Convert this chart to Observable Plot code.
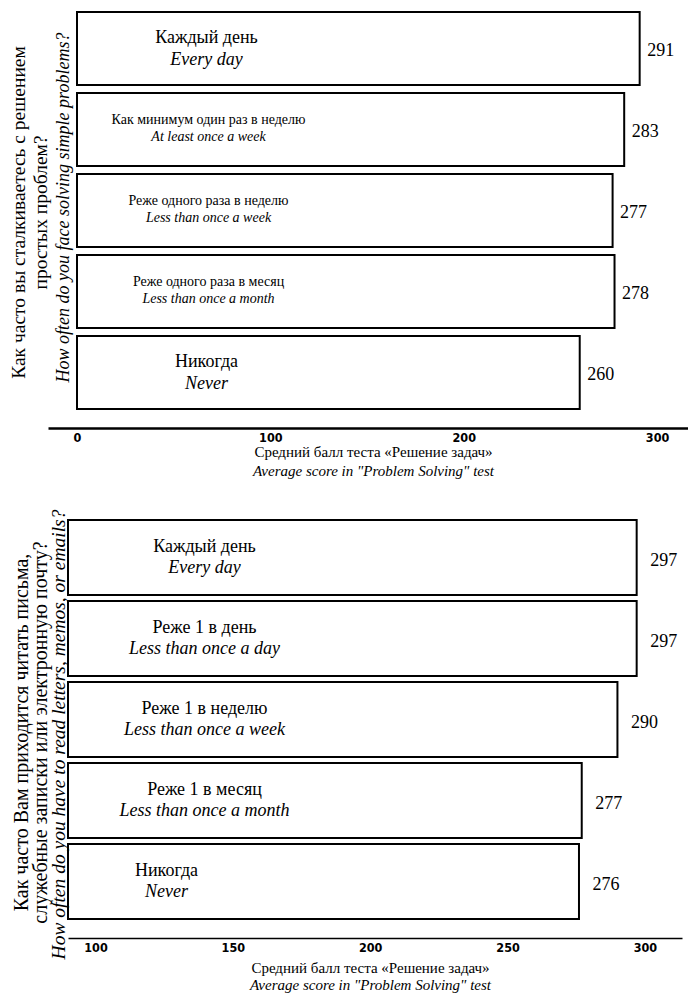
<!DOCTYPE html>
<html>
<head>
<meta charset="utf-8">
<script src="https://cdn.jsdelivr.net/npm/d3@7"></script>
<script src="https://cdn.jsdelivr.net/npm/@observablehq/plot@0.6"></script>
<style>
  html, body { margin: 0; padding: 0; background: #fff; }
  #chart { width: 688px; }
  #chart svg { display: block; }
</style>
</head>
<body>
<div id="chart"></div>
<script>
// ---------- data: panel 1 ----------
const labelsRu1 = ["Каждый день", "Как минимум один раз в неделю", "Реже одного раза в неделю", "Реже одного раза в месяц", "Никогда"];
const labelsEn1 = ["Every day", "At least once a week", "Less than once a week", "Less than once a month", "Never"];
const scores1 = [291, 283, 277, 278, 260];
const ticks1 = [0, 100, 200, 300];
const yTitle1 = ["Как часто вы сталкиваетесь с решением", "простых проблем?", "How often do you face solving simple problems?"];

// ---------- data: panel 2 ----------
const labelsRu2 = ["Каждый день", "Реже 1 в день", "Реже 1 в неделю", "Реже 1 в месяц", "Никогда"];
const labelsEn2 = ["Every day", "Less than once a day", "Less than once a week", "Less than once a month", "Never"];
const scores2 = [297, 297, 290, 277, 276];
const ticks2 = [100, 150, 200, 250, 300];
const yTitle2 = ["Как часто Вам приходится читать письма,", "служебные записки или электронную почту?", "How often do you have to read letters, memos, or emails?"];

// ---------- shared ----------
const xTitle = ["Средний балл теста «Решение задач»", "Average score in \"Problem Solving\" test"];

const rows1 = labelsRu1.map((ru, i) => ({ru, en: labelsEn1[i], score: scores1[i], i}));
const rows2 = labelsRu2.map((ru, i) => ({ru, en: labelsEn2[i], score: scores2[i], i}));

const SERIF = "Liberation Serif";
const TICKFONT = "DejaVu Sans Condensed";

function rowLabels(data, size, dx, dyRu, dyEn) {
  return [
    Plot.text(data, {y: "ru", text: "ru", frameAnchor: "left", dx, dy: dyRu, textAnchor: "middle", lineAnchor: "bottom", fontSize: size, fontFamily: SERIF, fill: "black"}),
    Plot.text(data, {y: "ru", text: "en", frameAnchor: "left", dx, dy: dyEn, textAnchor: "middle", lineAnchor: "bottom", fontSize: size, fontFamily: SERIF, fontStyle: "italic", fill: "black"})
  ];
}

function yTitles(lines, sizes, dxs, dys) {
  return lines.map((t, k) => Plot.text([t], {
    text: d => d, frameAnchor: "left", rotate: -90, dx: dxs[k], dy: dys[k],
    textAnchor: "middle", lineAnchor: "middle", fontSize: sizes[k], fontFamily: SERIF,
    fontStyle: k === 2 ? "italic" : "normal", fill: "black"
  }));
}

function xTitles(dx, dy0, dy1) {
  return xTitle.map((t, k) => Plot.text([t], {
    text: d => d, frameAnchor: "bottom", dx, dy: k === 0 ? dy0 : dy1,
    textAnchor: "middle", lineAnchor: "middle", fontSize: 15, fontFamily: SERIF,
    fontStyle: k === 1 ? "italic" : "normal", fill: "black"
  }));
}

// bottom edge of the frame only (axis line): dash pattern skips top, right and left sides
function bottomLine(w, h, sw) {
  return Plot.frame({stroke: "black", strokeWidth: sw, strokeDasharray: `0 ${w + h} ${w} ${h}`});
}

// ---------- panel 1 ----------
const W1 = 688, H1 = 490, m1 = {l: 48, r: 0, t: 6, b: 62};
const p1 = Plot.plot({
  width: W1, height: H1,
  marginLeft: m1.l, marginRight: m1.r, marginTop: m1.t, marginBottom: m1.b,
  style: {background: "white", color: "black", fontFamily: SERIF},
  x: {domain: [-15, 316], axis: null},
  y: {domain: labelsRu1, axis: null, paddingInner: 0.1, paddingOuter: 0.05, insetBottom: 14},
  marks: [
    bottomLine(W1 - m1.l - m1.r, H1 - m1.t - m1.b, 2.5),
    Plot.barX(rows1, {y: "ru", x1: 0, x2: "score", fill: "white", stroke: "black", strokeWidth: 2}),
    ...rowLabels(rows1.filter(d => d.ru.length <= 12), 18, 158, -6, 16),
    ...rowLabels(rows1.filter(d => d.ru.length > 12), 14, 160, -6, 11),
    Plot.text(rows1, {x: "score", y: "ru", text: "score", textAnchor: "start", dx: 7, dy: 1, fontSize: 18, fontFamily: SERIF, fill: "black"}),
    Plot.axisX({ticks: ticks1, tickSize: 0, tickPadding: 5, fontSize: 12.5, fontFamily: TICKFONT, fontWeight: "bold", label: null}),
    ...yTitles(yTitle1, [19.5, 19.5, 18], [-30, -8, 15], [-5, -5, -10]),
    ...xTitles(5, 24, 43)
  ]
});

// ---------- panel 2 ----------
const base2 = 90;
const W2 = 688, H2 = 504, m2 = {l: 68, r: 6, t: 24, b: 56};
const p2 = Plot.plot({
  width: W2, height: H2,
  marginLeft: m2.l, marginRight: m2.r, marginTop: m2.t, marginBottom: m2.b,
  style: {background: "white", color: "black", fontFamily: SERIF},
  x: {domain: [base2, 313.5], axis: null},
  y: {domain: labelsRu2, axis: null, paddingInner: 0.08, paddingOuter: 0.04, insetBottom: 14.3},
  marks: [
    bottomLine(W2 - m2.l - m2.r, H2 - m2.t - m2.b, 1.5),
    Plot.barX(rows2, {y: "ru", x1: base2, x2: "score", fill: "white", stroke: "black", strokeWidth: 2}),
    ...rowLabels(rows2.filter(d => d.i < 4), 18, 136, -6, 15),
    ...rowLabels(rows2.filter(d => d.i === 4), 18, 98, -6, 15),
    Plot.text(rows2, {x: "score", y: "ru", text: "score", textAnchor: "start", dx: 13, dy: 2, fontSize: 18, fontFamily: SERIF, fill: "black"}),
    Plot.axisX({ticks: ticks2, tickSize: 0, tickPadding: 5, fontSize: 12.5, fontFamily: TICKFONT, fontWeight: "bold", label: null}),
    ...yTitles(yTitle2, [20, 20, 19.5], [-47, -28, -10], [6, 6, 8]),
    ...xTitles(-5, 30, 47)
  ]
});

document.getElementById("chart").append(p1, p2);
</script>
</body>
</html>
